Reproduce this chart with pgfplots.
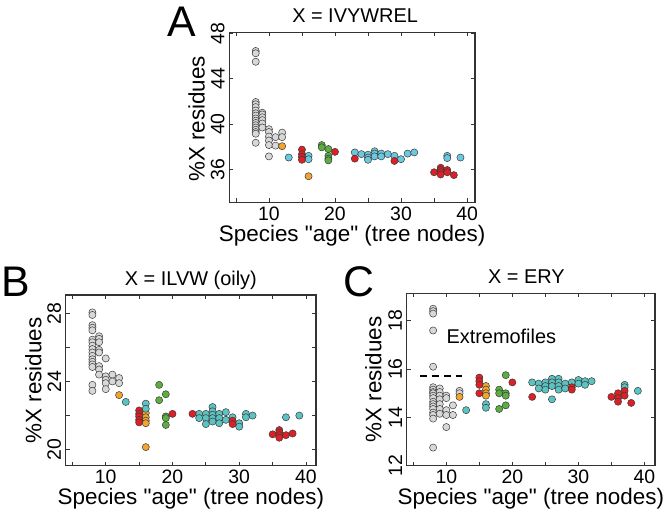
\documentclass[border=0pt]{standalone}
\usepackage{fontspec}
\setmainfont{Liberation Sans}
\usepackage{pgfplots}
\pgfplotsset{compat=1.18}
\definecolor{cgrey}{HTML}{D8D8D8}
\definecolor{corange}{HTML}{F2A52C}
\definecolor{cred}{HTML}{DD1F26}
\definecolor{cgreen}{HTML}{5BAE3F}
\definecolor{ccyanA}{HTML}{6BC9DF}
\definecolor{ccyan}{HTML}{5CC3C3}
\definecolor{cedge}{HTML}{3A3A3A}
\definecolor{caxis}{HTML}{333333}
\pgfplotsset{
 panel/.style={
  scale only axis, anchor=south west,
  axis line style={caxis, line width=1.1pt},
  tick style={caxis, line width=0.8pt},
  major tick length=4bp, minor tick length=4bp,
  tick align=inside, xtick pos=both, ytick pos=both,
  xtick={10,20,30,40}, minor xtick={5,15,25,35},
  /pgf/number format/assume math mode=true,
  tick label style={font=\fontsize{19.5}{19.5}\selectfont},
  xticklabel style={anchor=north, inner sep=0pt, yshift=-4.5bp},
  yticklabel style={rotate=90, anchor=south, inner sep=4.5bp},
  xlabel={Species \textquotedbl age\textquotedbl\ (tree nodes)},
  ylabel={\%X residues},
  label style={font=\fontsize{22.5}{22.5}\selectfont, inner sep=0pt},
  xlabel style={at={(axis description cs:0.5,0)}, anchor=base, yshift=-39bp},
  title style={font=\fontsize{20}{20}\selectfont, anchor=base, inner sep=0pt, yshift=4bp},
 },
 pts/.style={only marks, mark=*, mark size=3.6pt, mark options={draw=cedge, line width=0.5pt, fill=#1}},
}
\begin{document}
\begin{tikzpicture}
\useasboundingbox (0,0) rectangle (664bp,519bp);
% ---------------- Panel A ----------------
\begin{axis}[panel, at={(229.3bp,316.7bp)}, width=245.7bp, height=170bp,
  xmin=4, xmax=41.2, ymin=33.1, ymax=48.1, ytick={36,40,44,48},
  title={X = IVYWREL}, title style={at={(axis description cs:0.512,1)}},
  ylabel style={at={(axis description cs:-0.099,0.49)}, anchor=south}]
\addplot[pts=cgrey] coordinates {
(8,46.45)(8,46.25)(8,45.5)(8,41.95)(8,41.75)(8,41.5)(8,41.2)(8,40.95)(8,40.75)(8,40.5)(8,40.3)(8,40.1)(8,39.9)(8,39.7)(8,39.5)(8,39.3)(8,39.15)(8,38.35)
(9,41.0)(9,40.85)(9,40.6)(9,40.35)(9,40.05)(9,39.7)
(10,39.55)(10,39.3)(10,38.9)(10,38.55)(10,38.15)(10,37.15)
(11,38.85)(11,38.1)
(12,39.25)(12,38.85)
};
\addplot[pts=corange] coordinates {(12,38.05)(16,35.4)};
\addplot[pts=ccyanA] coordinates {
(13,37.05)(16,37.2)(16,36.9)(23,37.5)(24,37.35)(25,37.3)(25,37.05)(25,36.85)(26,37.6)(26,37.4)(26,37.15)
(27,37.4)(27,37.15)(28,37.35)(29,37.2)(30,36.9)(31,37.4)(32,37.5)(37,37.2)(37,37.0)(39,37.05)
};
\addplot[pts=cred] coordinates {
(15,37.75)(15,37.35)(15,37.1)(15,36.85)(20,37.55)(23,36.95)(29,36.75)
(35,35.75)(36,36.15)(36,35.95)(36,35.75)(36,35.55)(37,35.95)(37,35.75)(38,35.5)
};
\addplot[pts=cgreen] coordinates {(18,38.15)(18,37.95)(19,37.8)(19,37.2)(19,36.95)(19,36.8)};
\end{axis}
% ---------------- Panel B ----------------
\begin{axis}[panel, at={(65.7bp,53.3bp)}, width=250.3bp, height=170.7bp,
  xmin=4, xmax=41.5, ymin=19.06, ymax=29.07, ytick={20,24,28}, minor ytick={22,26},
  title={X = ILVW (oily)}, title style={at={(axis description cs:0.5,1)}},
  ylabel style={at={(axis description cs:-0.096,0.5)}, anchor=south}]
\addplot[pts=cgrey] coordinates {
(8,28.05)(8,27.9)(8,27.3)(8,27.15)(8,27.0)(8,26.45)(8,26.3)(8,26.1)(8,25.9)(8,25.7)(8,25.5)(8,25.3)(8,25.15)(8,25.0)(8,24.85)(8,23.8)(8,23.45)
(9,26.65)(9,26.5)(9,26.3)(9,25.85)(9,25.7)(9,24.9)(9,24.7)(9,24.4)
(10,25.35)(10,24.3)(10,24.1)(10,23.9)(10,23.55)
(11,24.4)(11,24.0)
(12,24.2)(12,23.9)
};
\addplot[pts=corange] coordinates {(12,23.2)(16,22.15)(16,21.9)(16,21.7)(16,21.55)(16,20.15)};
\addplot[pts=ccyan] coordinates {
(13,22.8)(16,22.7)(16,22.4)(24,22.1)(24,21.85)(25,22.1)(25,21.85)(25,21.5)(26,22.5)(26,22.25)(26,22.05)(26,21.85)(26,21.65)
(27,22.1)(27,21.85)(27,21.55)(28,22.2)(28,21.75)(29,21.9)(30,21.55)(30,21.35)(31,22.1)(31,21.9)(32,22.0)(37,21.9)(39,22.0)
};
\addplot[pts=cred] coordinates {
(15,22.3)(15,22.1)(15,21.95)(15,21.75)(15,21.6)(20,22.1)(23,22.1)(29,21.7)(29,21.5)
(35,20.9)(36,21.15)(36,21.0)(36,20.85)(36,20.7)(37,20.85)(38,20.95)
};
\addplot[pts=cgreen] coordinates {(18,23.8)(18,22.9)(19,23.25)(19,21.95)(19,21.85)(19,21.45)};
\end{axis}
% ---------------- Panel C ----------------
\begin{axis}[panel, at={(406.7bp,53.3bp)}, width=248.3bp, height=172.4bp,
  xmin=4, xmax=41.6, ymin=12, ymax=19.14, ytick={12,14,16,18},
  title={X = ERY}, title style={at={(axis description cs:0.482,1)}},
  ylabel style={at={(axis description cs:-0.10,0.5)}, anchor=south}]
\addplot[pts=cgrey] coordinates {
(8,18.5)(8,18.4)(8,18.3)(8,17.6)(8,16.1)(8,15.25)(8,15.15)(8,15.05)(8,15.0)(8,14.9)(8,14.8)(8,14.65)(8,14.55)(8,14.45)(8,14.35)(8,14.2)(8,14.1)(8,13.95)(8,12.75)
(9,15.2)(9,15.05)(9,14.9)(9,14.75)(9,14.55)(9,14.35)(9,14.15)
(10,14.9)(10,14.8)(10,14.3)(10,14.1)(10,13.6)
(11,14.5)(11,14.1)
(12,15.1)(12,15.0)
};
\addplot[pts=corange] coordinates {(12,14.85)(16,15.3)(16,15.15)(16,15.0)(16,14.9)};
\addplot[pts=ccyan] coordinates {
(13,14.3)(16,14.55)(16,14.4)(23,15.45)(24,15.4)(24,15.2)(25,15.45)(25,15.3)(25,15.15)(26,15.6)(26,15.45)(26,15.3)(26,14.75)
(27,15.6)(27,15.45)(27,15.3)(27,15.15)(28,15.4)(28,15.2)(29,15.45)(30,15.55)(30,15.4)(31,15.5)(31,15.35)(32,15.5)(37,15.35)(37,15.25)(39,15.1)
};
\addplot[pts=cred] coordinates {
(15,15.65)(15,15.5)(15,15.35)(15,15.0)(20,15.45)(23,14.85)(29,15.25)(29,15.15)
(35,14.85)(36,15.0)(36,14.8)(36,14.65)(37,15.1)(37,14.9)(38,14.6)
};
\addplot[pts=cgreen] coordinates {(18,15.15)(18,15.0)(18,14.35)(19,15.75)(19,15.0)(19,14.9)(19,14.5)};
\addplot[black, line width=1.8pt, dash pattern=on 7bp off 5bp] coordinates {(6,15.72)(12.4,15.72)};
\node[anchor=west, inner sep=0pt, font=\fontsize{20}{20}\selectfont] at (axis cs:10,17.35) {Extremofiles};
\end{axis}
% ---------------- Panel letters ----------------
\node[anchor=base west, inner sep=0pt, font=\fontsize{43}{43}\selectfont] at (167bp,482bp) {A};
\node[anchor=base west, inner sep=0pt, font=\fontsize{43}{43}\selectfont] at (1.5bp,222bp) {B};
\node[anchor=base west, inner sep=0pt, font=\fontsize{43}{43}\selectfont] at (343bp,222bp) {C};
\end{tikzpicture}
\end{document}
